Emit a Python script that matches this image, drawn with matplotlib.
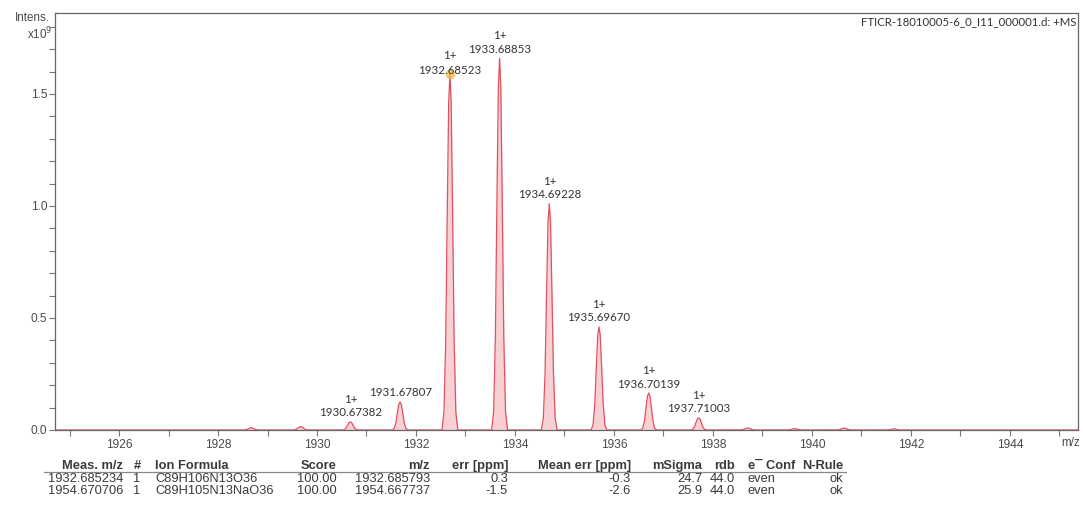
import matplotlib
matplotlib.use("Agg")
import matplotlib.pyplot as plt
from matplotlib.ticker import MultipleLocator, FormatStrFormatter

# peak list (m/z, intensity in units of 1e9)
peak_mz = [1928.67, 1929.67, 1930.67382, 1931.67807, 1932.68523, 1933.68853,
           1934.69228, 1935.69670, 1936.70139, 1937.71003,
           1938.70, 1939.65, 1940.65, 1941.65]
peak_int = [0.010, 0.015, 0.036, 0.125, 1.59, 1.66,
            1.01, 0.46, 0.165, 0.054,
            0.009, 0.006, 0.008, 0.005]

# annotated peaks: m/z label and charge
label_mz = [1930.67382, 1931.67807, 1932.68523, 1933.68853, 1934.69228,
            1935.69670, 1936.70139, 1937.71003]
label_charge = ["1+", "", "1+", "1+", "1+", "1+", "1+", "1+"]

# compound table
table_header = ["Meas. m/z", "#", "Ion Formula", "Score", "m/z", "err [ppm]",
                "Mean err [ppm]", "mSigma", "rdb", "e\u00af Conf", "N-Rule"]
table_rows = [
    ["1932.685234", "1", "C89H106N13O36", "100.00", "1932.685793", "0.3",
     "-0.3", "24.7", "44.0", "even", "ok"],
    ["1954.670706", "1", "C89H105N13NaO36", "100.00", "1954.667737", "-1.5",
     "-2.6", "25.9", "44.0", "even", "ok"],
]

W, H = 1083, 513
XMIN, XMAX = 1924.707, 1945.374
YMAX = 1.8616

# profile used to draw each centroid as a narrow peak
shape_dx = [-0.16, -0.12, -0.085, -0.055, -0.025, 0.0, 0.025, 0.055, 0.085, 0.12, 0.16]
shape_fr = [0.0, 0.05, 0.25, 0.6, 0.92, 1.0, 0.92, 0.6, 0.25, 0.05, 0.0]

LINE = "#e0505e"
FILL = "#f6bcc3"
GRAY = "#4a4a4a"


def fx(px):
    return px / W


def fy(py):
    return 1 - py / H


def build_trace():
    xs, ys = [XMIN], [0.0]
    for mz, h in sorted(zip(peak_mz, peak_int)):
        for dx, fr in zip(shape_dx, shape_fr):
            xs.append(mz + dx)
            ys.append(h * fr)
    xs.append(XMAX)
    ys.append(0.0)
    return xs, ys


fig = plt.figure(figsize=(W / 100, H / 100), dpi=100)
ax = fig.add_axes([fx(55), fy(430), fx(1078) - fx(55), fy(13) - fy(430)])

xs, ys = build_trace()
ax.fill_between(xs, ys, 0, color=FILL, alpha=0.7, lw=0)
ax.plot(xs, ys, color=LINE, lw=0.9)

# highlighted peak
i_hl = peak_mz.index(1932.68523)
ax.plot(peak_mz[i_hl], peak_int[i_hl], "o", ms=7, color="#f2b33d", alpha=0.7,
        mec="none")

lbl_font = dict(family="Lato", size=8.3, color="#333333")
for mz, ch in zip(label_mz, label_charge):
    h = peak_int[peak_mz.index(mz)]
    off_val, off_ch = 6.5, 16.0
    if mz == 1932.68523:
        off_val, off_ch = 2.2, 13.0
    ax.annotate(f"{mz:.5f}", (mz, h), xytext=(0, off_val), textcoords="offset points",
                ha="center", va="center", **lbl_font)
    if ch:
        ax.annotate(ch, (mz, h), xytext=(0, off_ch), textcoords="offset points",
                    ha="center", va="center", **lbl_font)

ax.set_xlim(XMIN, XMAX)
ax.set_ylim(0, YMAX)
ax.xaxis.set_major_locator(MultipleLocator(2))
ax.xaxis.set_minor_locator(MultipleLocator(1))
ax.yaxis.set_major_locator(MultipleLocator(0.5))
ax.yaxis.set_minor_locator(MultipleLocator(0.1))
ax.yaxis.set_major_formatter(FormatStrFormatter("%.1f"))
ax.tick_params(which="both", direction="out", length=4, width=0.8, color="#777777",
               labelsize=8.6, labelcolor=GRAY)
ax.tick_params(axis="x", which="both", pad=2.5)
ax.tick_params(axis="y", which="both", pad=1.5)
for lab in ax.get_xticklabels() + ax.get_yticklabels():
    lab.set_family("Liberation Sans")
for s in ax.spines.values():
    s.set_color("#666666")
    s.set_linewidth(0.9)

# axis captions
fig.text(fx(50), fy(18), "Intens.", ha="right", va="center", family="Liberation Sans",
         size=8.4, color=GRAY)
fig.text(fx(52), fy(34), r"x10$^{9}$", ha="right", va="center", family="Liberation Sans",
         size=8.4, color=GRAY)
fig.text(fx(1080), fy(443), "m/z", ha="right", va="center", family="Liberation Sans",
         size=8.4, color=GRAY)
fig.text(fx(1076), fy(22), "FTICR-18010005-6_0_I11_000001.d: +MS", ha="right",
         va="center", family="Lato", size=8.2, color="#333333")

# compound table
col_x = [123, 137, 155, 337, 430, 508, 631, 702, 735, 748, 843]
col_ha = ["right", "center", "left", "right", "right", "right", "right", "right",
          "right", "left", "right"]
tbl_font = dict(family="Liberation Sans", size=9.3, color="#3a3a3a", va="center")
for name, x, ha in zip(table_header, col_x, col_ha):
    fig.text(fx(x), fy(466), name, ha=ha, weight="bold", **tbl_font)
fig.add_artist(plt.Line2D([fx(44), fx(846)], [fy(472), fy(472)],
                          color="#888888", lw=0.9))
for r, row in enumerate(table_rows):
    for val, x, ha in zip(row, col_x, col_ha):
        fig.text(fx(x), fy(479 + 12 * r), val, ha=ha, **tbl_font)

fig.savefig("out.png", dpi=100)
